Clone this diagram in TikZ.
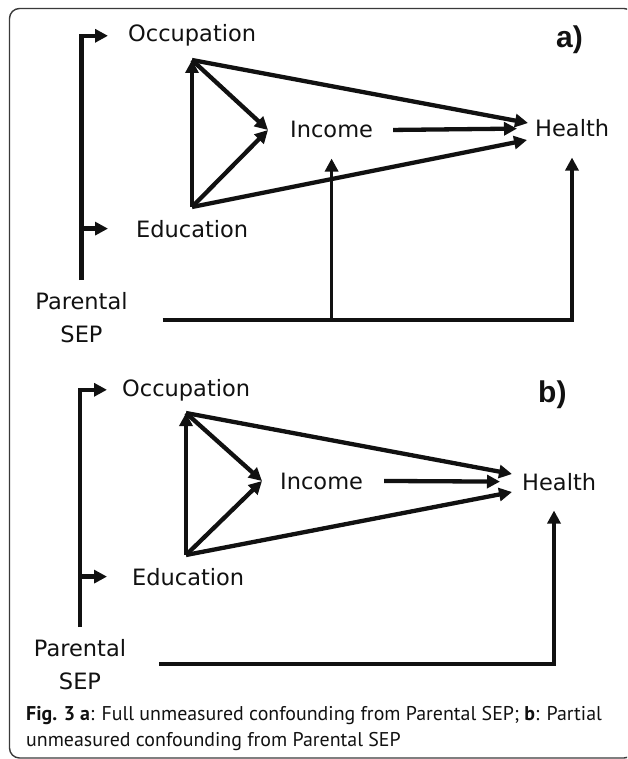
\documentclass[tikz,border=0pt]{standalone}
\usepackage{fontspec}
\setsansfont{DejaVu Sans}
\newfontfamily\capfont{PT Sans}
\newfontfamily\tagfont{Liberation Sans}
\usepackage{tikz}
\usetikzlibrary{arrows.meta}
\definecolor{Marco}{HTML}{3A3A3A}
\definecolor{Tinta}{HTML}{111111}

\begin{document}
\begin{tikzpicture}[
  x=1pt, y=-1pt,
  every node/.style={font=\sffamily\fontsize{22.5}{33}\selectfont,text=Tinta,inner sep=0pt},
  var/.style={anchor=base west},
  parent/.style={anchor=north,align=center},
  tag/.style={anchor=base west,font=\tagfont\bfseries\fontsize{30}{30}\selectfont},
  link/.style={-{Triangle[length=13pt,width=13pt]},line width=4.3pt,draw=Tinta},
  linkthin/.style={link,line width=3.3pt}
]
  \useasboundingbox (0,0) rectangle (627,759);
  \clip (0,0) rectangle (627,759);
  \draw[Marco,line width=1.4pt,rounded corners=10pt] (9.5,8.5) rectangle (634,758);

  % panel a
  \node[tag] (taga) at (556,48) {a)};
  \node[var] (occa) at (128,42) {Occupation};
  \node[var] (inca) at (290,138) {Income};
  \node[var] (heaa) at (535,137) {Health};
  \node[var] (edua) at (136,237) {Education};
  \node[parent] (para) at (81.5,292) {Parental\\SEP};

  \coordinate (oa) at (192,60);
  \coordinate (ea) at (192,207);
  \coordinate (ia) at (268,130);
  \coordinate (ha1) at (528,123);
  \coordinate (ha2) at (527,140);
  \coordinate (ca) at (572,320);

  \draw[link] (ea) -- (oa);
  \draw[link] (oa) -- (ia);
  \draw[link] (ea) -- (ia);
  \draw[link] (oa) -- (ha1);
  \draw[link] (ea) -- (ha2);
  \draw[link] ([xshift=20pt]inca.east) -- ([xshift=-18pt]heaa.west);

  \draw[link] ([yshift=12pt]para.north) |- ([xshift=-20pt]occa.west);
  \draw[link] (para.north |- edua.west) -- ([xshift=-28pt]edua.west);
  \draw[link,shorten >=20pt] ([xshift=35pt]para.east |- ca) -- (ca) -- (ca |- heaa.south);
  \draw[linkthin,shorten >=20pt] (inca.south |- ca) -- (inca.south);

  % panel b
  \node[tag] (tagb) at (538,402) {b)};
  \node[var] (occb) at (122,396) {Occupation};
  \node[var] (incb) at (280,489) {Income};
  \node[var] (heab) at (522,490) {Health};
  \node[var] (edub) at (132,585) {Education};
  \node[parent] (parb) at (80,639) {Parental\\SEP};

  \coordinate (ob) at (186,413);
  \coordinate (eb) at (186,555);
  \coordinate (ib) at (262,481);
  \coordinate (hb1) at (512,474);
  \coordinate (hb2) at (512,492);
  \coordinate (cb) at (554,664);

  \draw[link] (eb) -- (ob);
  \draw[link] (ob) -- (ib);
  \draw[link] (eb) -- (ib);
  \draw[link] (ob) -- (hb1);
  \draw[link] (eb) -- (hb2);
  \draw[link] ([xshift=21pt]incb.east) -- ([xshift=-22pt]heab.west);

  \draw[link] ([yshift=12pt]parb.north) |- ([xshift=-15pt]occb.west);
  \draw[link] (parb.north |- edub.west) -- ([xshift=-25pt]edub.west);
  \draw[link,shorten >=20pt] ([xshift=33pt]parb.east |- cb) -- (cb) -- (cb |- heab.south);

  % caption
  \node[anchor=north west,align=left,font=\capfont\fontsize{19.9}{26.5}\selectfont] (cap) at (26,706)
    {\textbf{Fig. 3 a}: Full unmeasured confounding from Parental SEP; \textbf{b}: Partial\\
     unmeasured confounding from Parental SEP};
\end{tikzpicture}
\end{document}
